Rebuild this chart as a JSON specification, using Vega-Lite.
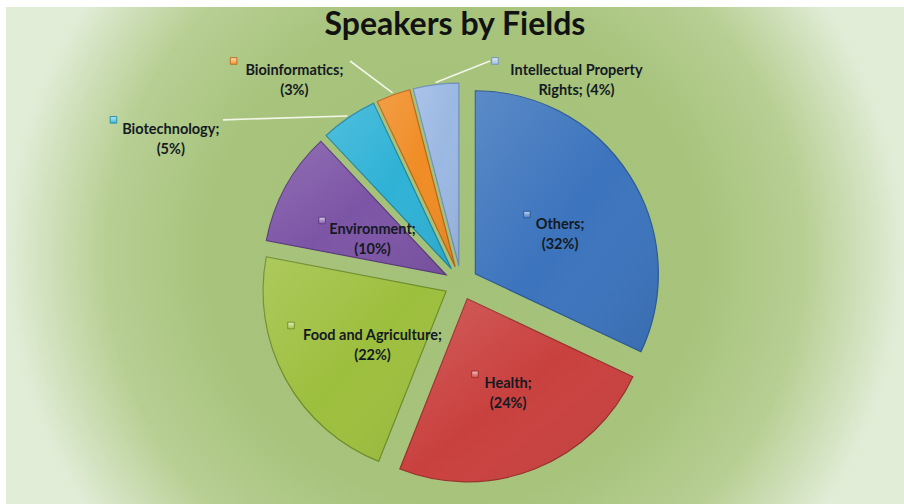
{
  "$schema": "https://vega.github.io/schema/vega-lite/v6.json",
  "width": 904,
  "height": 504,
  "autosize": {"type": "fit", "contains": "padding"},
  "padding": {"left": 6, "top": 7, "right": 0, "bottom": 0},
  "background": "#ffffff",
  "title": {
    "text": "Speakers by Fields",
    "anchor": "middle",
    "frame": "group",
    "offset": -35,
    "font": "Lato",
    "fontSize": 32,
    "fontWeight": "bold",
    "color": "#121212"
  },
  "config": {"view": {"stroke": null}, "font": "Lato"},
  "data": {
    "values": [
      {"category": "Others", "percent": 32},
      {"category": "Health", "percent": 24},
      {"category": "Food and Agriculture", "percent": 22},
      {"category": "Environment", "percent": 10},
      {"category": "Biotechnology", "percent": 5},
      {"category": "Bioinformatics", "percent": 3},
      {"category": "Intellectual Property Rights", "percent": 4}
    ]
  },
  "transform": [
    {"window": [{"op": "sum", "field": "percent", "as": "cum"}], "frame": [null, 0]},
    {"calculate": "datum.cum - datum.percent", "as": "start"},
    {"calculate": "datum.cum", "as": "end"},
    {"calculate": "(datum.cum - datum.percent / 2) / 100 * 2 * PI", "as": "ang"},
    {"calculate": "17 * sin(datum.ang)", "as": "ex"},
    {"calculate": "17 * cos(datum.ang)", "as": "ey"},
    {"calculate": "datum.percent < 10", "as": "outside"},
    {"joinaggregate": [{"op": "mean", "field": "ang", "as": "meanAng"}], "groupby": ["outside"]},
    {"calculate": "datum.outside ? datum.meanAng + 2.2 * (datum.ang - datum.meanAng) - PI / 60 : datum.ang", "as": "la"},
    {"calculate": "length(datum.category) > 22 ? substring(datum.category, 0, lastindexof(datum.category, ' ')) : datum.category + ';'", "as": "line1"},
    {"calculate": "length(datum.category) > 22 ? substring(datum.category, lastindexof(datum.category, ' ') + 1) + '; (' + datum.percent + '%)' : '(' + datum.percent + '%)'", "as": "line2"},
    {"calculate": "datum.line1 + '\\n' + datum.line2", "as": "label"},
    {"calculate": "6.9 * length(datum.line1)", "as": "w1"},
    {"calculate": "datum.outside ? 295 * sin(datum.la) : datum.ex + 92 * sin(datum.ang)", "as": "lx"},
    {"calculate": "datum.outside ? min(276 * cos(datum.la), 222) : datum.ey + 92 * cos(datum.ang)", "as": "ly"},
    {"calculate": "datum.outside ? (sin(datum.la) < 0 ? datum.lx - 4 - datum.w1 / 2 : datum.lx + 14 + datum.w1 / 2) : datum.lx + 7", "as": "tx"},
    {"calculate": "datum.outside ? datum.ly - 10 : datum.ly", "as": "ty"},
    {"calculate": "datum.tx - datum.w1 / 2 - 9", "as": "bx"},
    {"calculate": "datum.ty + 10", "as": "by"},
    {"calculate": "datum.ex + 185 * sin(datum.ang)", "as": "sx"},
    {"calculate": "datum.ey + 185 * cos(datum.ang)", "as": "sy"}
  ],
  "layer": [
    {
      "transform": [{"filter": "datum.start === 0"}],
      "mark": {
        "type": "rect",
        "strokeWidth": 0,
        "fill": {
          "gradient": "radial",
          "x1": 0.5, "y1": 0.5, "r1": 0,
          "x2": 0.5, "y2": 0.5, "r2": 0.5,
          "stops": [
            {"offset": 0, "color": "#a4c179"},
            {"offset": 0.55, "color": "#a7c37c"},
            {"offset": 0.78, "color": "#b8cf94"},
            {"offset": 0.92, "color": "#d2e2bf"},
            {"offset": 1, "color": "#e2edd8"}
          ]
        }
      },
      "encoding": {
        "x": {"value": 0},
        "x2": {"value": "width"},
        "y": {"value": 0},
        "y2": {"value": "height"}
      }
    },
    {
      "mark": {"type": "arc", "radius": 183, "strokeWidth": 1.2},
      "encoding": {
        "x": {"field": "ex", "type": "quantitative", "scale": {"domain": [-455, 443], "nice": false, "zero": false}, "axis": null},
        "y": {"field": "ey", "type": "quantitative", "scale": {"domain": [-221, 276], "nice": false, "zero": false}, "axis": null},
        "theta": {"field": "start", "type": "quantitative", "scale": {"domain": [0, 100]}, "stack": null},
        "theta2": {"field": "end"},
        "fill": {
          "field": "category", "type": "nominal", "legend": null,
          "scale": {
            "domain": ["Others", "Health", "Food and Agriculture", "Environment", "Biotechnology", "Bioinformatics", "Intellectual Property Rights"],
            "range": ["#3c74bd", "#c9413f", "#9dbf3e", "#7d55a6", "#2fb2d6", "#f08c24", "#9bb8e3"]
          }
        },
        "stroke": {
          "field": "category", "type": "nominal", "legend": null,
          "scale": {
            "domain": ["Others", "Health", "Food and Agriculture", "Environment", "Biotechnology", "Bioinformatics", "Intellectual Property Rights"],
            "range": ["#2b5a96", "#9a2f2d", "#6f8c2a", "#5a3a7e", "#1f86a3", "#b8661a", "#6f8fbd"]
          }
        }
      }
    },
    {
      "mark": {
        "type": "arc", "radius": 183, "strokeWidth": 0,
        "fill": {
          "gradient": "linear", "x1": 0, "y1": 0, "x2": 1, "y2": 1,
          "stops": [
            {"offset": 0, "color": "rgba(255,255,255,0.16)"},
            {"offset": 0.5, "color": "rgba(255,255,255,0.0)"},
            {"offset": 1, "color": "rgba(0,0,0,0.08)"}
          ]
        }
      },
      "encoding": {
        "x": {"field": "ex", "type": "quantitative", "scale": {"domain": [-455, 443], "nice": false, "zero": false}, "axis": null},
        "y": {"field": "ey", "type": "quantitative", "scale": {"domain": [-221, 276], "nice": false, "zero": false}, "axis": null},
        "theta": {"field": "start", "type": "quantitative", "scale": {"domain": [0, 100]}, "stack": null},
        "theta2": {"field": "end"}
      }
    },
    {
      "transform": [{"filter": "datum.outside"}],
      "mark": {"type": "rule", "color": "#f2f6e8", "strokeWidth": 1.6},
      "encoding": {
        "x": {"field": "sx", "type": "quantitative", "scale": {"domain": [-455, 443], "nice": false, "zero": false}, "axis": null},
        "y": {"field": "sy", "type": "quantitative", "scale": {"domain": [-221, 276], "nice": false, "zero": false}, "axis": null},
        "x2": {"field": "lx"},
        "y2": {"field": "ly"}
      }
    },
    {
      "mark": {"type": "square", "size": 44, "strokeWidth": 0.8, "filled": true, "opacity": 1, "fillOpacity": 1},
      "encoding": {
        "x": {"field": "bx", "type": "quantitative", "scale": {"domain": [-455, 443], "nice": false, "zero": false}, "axis": null},
        "y": {"field": "by", "type": "quantitative", "scale": {"domain": [-221, 276], "nice": false, "zero": false}, "axis": null},
        "fill": {"field": "category", "type": "nominal", "legend": null},
        "stroke": {"field": "category", "type": "nominal", "legend": null}
      }
    },
    {
      "mark": {
        "type": "square", "size": 30, "strokeWidth": 0, "opacity": 1,
        "fill": {
          "gradient": "linear", "x1": 0, "y1": 0, "x2": 0, "y2": 1,
          "stops": [
            {"offset": 0, "color": "rgba(255,255,255,0.65)"},
            {"offset": 1, "color": "rgba(255,255,255,0.1)"}
          ]
        }
      },
      "encoding": {
        "x": {"field": "bx", "type": "quantitative", "scale": {"domain": [-455, 443], "nice": false, "zero": false}, "axis": null},
        "y": {"field": "by", "type": "quantitative", "scale": {"domain": [-221, 276], "nice": false, "zero": false}, "axis": null}
      }
    },
    {
      "mark": {"type": "text", "font": "Lato", "fontSize": 14.5, "fontWeight": "bold", "lineBreak": "\n", "lineHeight": 20, "align": "center", "baseline": "middle", "color": "#141a22"},
      "encoding": {
        "x": {"field": "tx", "type": "quantitative", "scale": {"domain": [-455, 443], "nice": false, "zero": false}, "axis": null},
        "y": {"field": "ty", "type": "quantitative", "scale": {"domain": [-221, 276], "nice": false, "zero": false}, "axis": null},
        "text": {"field": "label", "type": "nominal"}
      }
    }
  ]
}
